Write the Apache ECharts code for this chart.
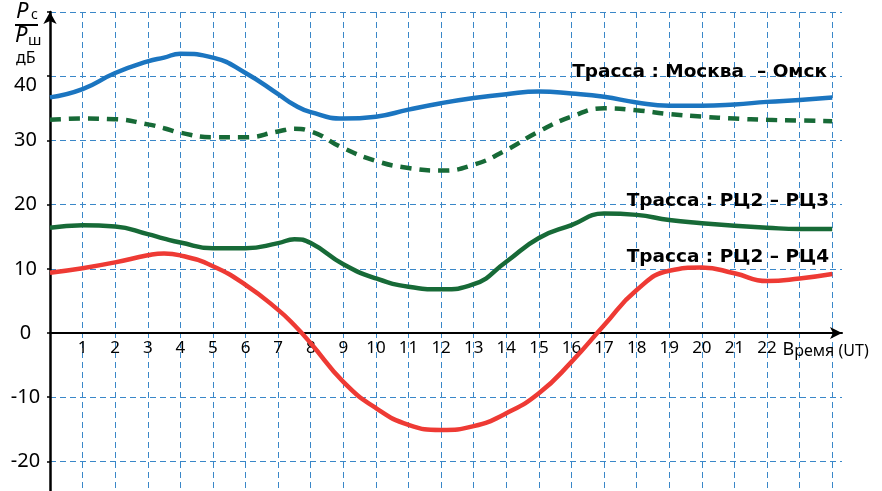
<!DOCTYPE html>
<html>
<head>
<meta charset="utf-8">
<script src="https://cdn.jsdelivr.net/npm/echarts@6/dist/echarts.min.js"></script>
<style>
html,body{margin:0;padding:0;background:#fff;}
#chart{width:882px;height:491px;}
</style>
</head>
<body>
<div id="chart"></div>
<script>
// Time of day (UT, hours)
const hours = [0,1,2,3,3.5,4,5,6,7,7.5,8,9,10,11,12,13,14,15,16,17,18,19,20,21,22,23,24];
// Москва – Омск (solid blue)
const moscowOmskSolid = [36.7,38.0,40.5,42.3,42.9,43.5,42.9,40.5,37.2,35.5,34.4,33.4,33.7,34.8,35.8,36.6,37.2,37.6,37.3,36.8,35.9,35.4,35.4,35.6,36.0,36.3,36.7];
// Москва – Омск (dashed green)
const moscowOmskDashed = [33.2,33.4,33.3,32.5,31.9,31.2,30.5,30.5,31.4,31.8,31.4,28.8,26.8,25.7,25.3,26.2,28.5,31.4,33.7,35.0,34.7,34.1,33.7,33.4,33.2,33.1,33.0];
// РЦ2 – РЦ3 (solid green)
const rc2rc3 = [16.4,16.8,16.6,15.4,14.7,14.1,13.2,13.2,14.0,14.6,14.0,10.7,8.5,7.2,6.8,7.6,11.1,14.8,16.8,18.6,18.4,17.6,17.1,16.7,16.4,16.2,16.2];
// РЦ2 – РЦ4 (red)
const rc2rc4 = [9.4,10.1,11.0,12.1,12.4,12.1,10.4,7.5,3.6,1.2,-1.6,-7.6,-11.7,-14.3,-15.1,-14.5,-12.5,-9.4,-4.5,1.2,6.7,9.7,10.2,9.3,8.1,8.5,9.2];
// Axis tick labels
const yTickLabels = [-20,-10,0,10,20,30,40];
const xTickLabels = [1,2,3,4,5,6,7,8,9,10,11,12,13,14,15,16,17,18,19,20,21,22];
const timeLabel = ['В', 'ремя (UT)'];
const traceLabels = ['Трасса : Москва  – Омск', 'Трасса : РЦ2 – РЦ3', 'Трасса : РЦ2 – РЦ4'];

const pairs = (vals) => hours.map((h, i) => [h, vals[i]]);
const FONT = '"Noto Sans", "Open Sans", sans-serif';
const BOLD_FONT = '"DejaVu Sans", "Noto Sans", sans-serif';
const gridColor = '#3a87c8';

const GRID_TOP = 12, PX_PER_UNIT = 6.42, Y_MIN = -30, Y_MAX = 50, H = 491;
const gridBottomPx = GRID_TOP + (Y_MAX - Y_MIN) * PX_PER_UNIT;
const zeroPx = GRID_TOP + Y_MAX * PX_PER_UNIT;

const chart = echarts.init(document.getElementById('chart'), null, {renderer: 'canvas'});
const option = {
  animation: false,
  backgroundColor: '#ffffff',
  grid: {left: 50, right: 40, top: GRID_TOP, bottom: H - gridBottomPx, containLabel: false, outerBoundsMode: 'none'},
  xAxis: {
    type: 'value', min: 0, max: 24.3, interval: 1, position: 'bottom',
    offset: zeroPx - gridBottomPx,
    axisLine: {show: true, onZero: false, symbol: ['none', 'arrow'], symbolSize: [9, 12],
      lineStyle: {color: '#000', width: 2}},
    axisTick: {show: false},
    splitLine: {show: true, showMinLine: false, showMaxLine: false,
      lineStyle: {color: gridColor, type: [6, 4], width: 1}},
    axisLabel: {
      margin: 7, color: '#000', fontSize: 17, fontFamily: FONT,
      formatter: function (v) {
        if (v === 23) return '{s|}{a|' + timeLabel[0] + '}{b|' + timeLabel[1] + '}';
        return xTickLabels.indexOf(v) >= 0 ? String(v) : '';
      },
      rich: {
        s: {width: 52},
        a: {fontSize: 18, fontFamily: FONT, color: '#000'},
        b: {fontSize: 16, fontFamily: FONT, color: '#000', padding: [3, 0, 0, 0]}
      }
    }
  },
  yAxis: {
    type: 'value', min: Y_MIN, max: Y_MAX, interval: 10,
    axisLine: {show: true, onZero: false, symbol: ['none', 'arrow'], symbolSize: [10, 12],
      lineStyle: {color: '#000', width: 2.5}},
    axisTick: {show: true, length: 3, lineStyle: {color: '#000', width: 1.5}},
    splitLine: {show: true, lineStyle: {color: gridColor, type: [6, 4], width: 1}},
    axisLabel: {
      margin: 24.5, align: 'center', color: '#000', fontSize: 20, fontFamily: FONT,
      formatter: function (v) {
        if (v === 40) return '{d|40}';
        return yTickLabels.indexOf(v) >= 0 ? String(v) : '';
      },
      rich: {d: {fontSize: 20, fontFamily: FONT, color: '#000', padding: [18, 0, 0, 0]}}
    }
  },
  series: [
    {name: 'Москва – Омск', type: 'line', data: pairs(moscowOmskSolid), smooth: 0.5, symbol: 'none',
      lineStyle: {color: '#1b75c0', width: 4.5}},
    {name: 'Москва – Омск (2)', type: 'line', data: pairs(moscowOmskDashed), smooth: 0.5, symbol: 'none',
      lineStyle: {color: '#176a37', width: 4.5, type: [11, 8]}},
    {name: 'РЦ2 – РЦ3', type: 'line', data: pairs(rc2rc3), smooth: 0.5, symbol: 'none',
      lineStyle: {color: '#176a37', width: 4.5}},
    {name: 'РЦ2 – РЦ4', type: 'line', data: pairs(rc2rc4), smooth: 0.5, symbol: 'none',
      lineStyle: {color: '#ee3a34', width: 4.5}}
  ],
  graphic: [
    {type: 'text', x: 827, y: 72, z: 100, style: {text: traceLabels[0], textAlign: 'right', textVerticalAlign: 'middle',
      font: 'bold 18.5px ' + BOLD_FONT, fill: '#000'}},
    {type: 'text', x: 829, y: 201, z: 100, style: {text: traceLabels[1], textAlign: 'right', textVerticalAlign: 'middle',
      font: 'bold 18.5px ' + BOLD_FONT, fill: '#000'}},
    {type: 'text', x: 829, y: 257, z: 100, style: {text: traceLabels[2], textAlign: 'right', textVerticalAlign: 'middle',
      font: 'bold 18.5px ' + BOLD_FONT, fill: '#000'}},
    // axis unit label: Pс / Pш, дБ
    {type: 'text', x: 16, y: 23, style: {text: 'P', textVerticalAlign: 'bottom', font: 'italic 22px ' + FONT, fill: '#000'}},
    {type: 'text', x: 31, y: 22, style: {text: 'с', textVerticalAlign: 'bottom', font: '14px ' + FONT, fill: '#000'}},
    {type: 'line', shape: {x1: 15, y1: 25, x2: 38, y2: 25}, style: {stroke: '#000', lineWidth: 2}},
    {type: 'text', x: 15, y: 47, style: {text: 'P', textVerticalAlign: 'bottom', font: 'italic 22px ' + FONT, fill: '#000'}},
    {type: 'text', x: 28, y: 48, style: {text: 'ш', textVerticalAlign: 'bottom', font: '15px ' + FONT, fill: '#000'}},
    {type: 'text', x: 16, y: 58, style: {text: 'дБ', textVerticalAlign: 'middle', font: '16px ' + FONT, fill: '#000'}}
  ]
};
chart.setOption(option);
</script>
</body>
</html>
